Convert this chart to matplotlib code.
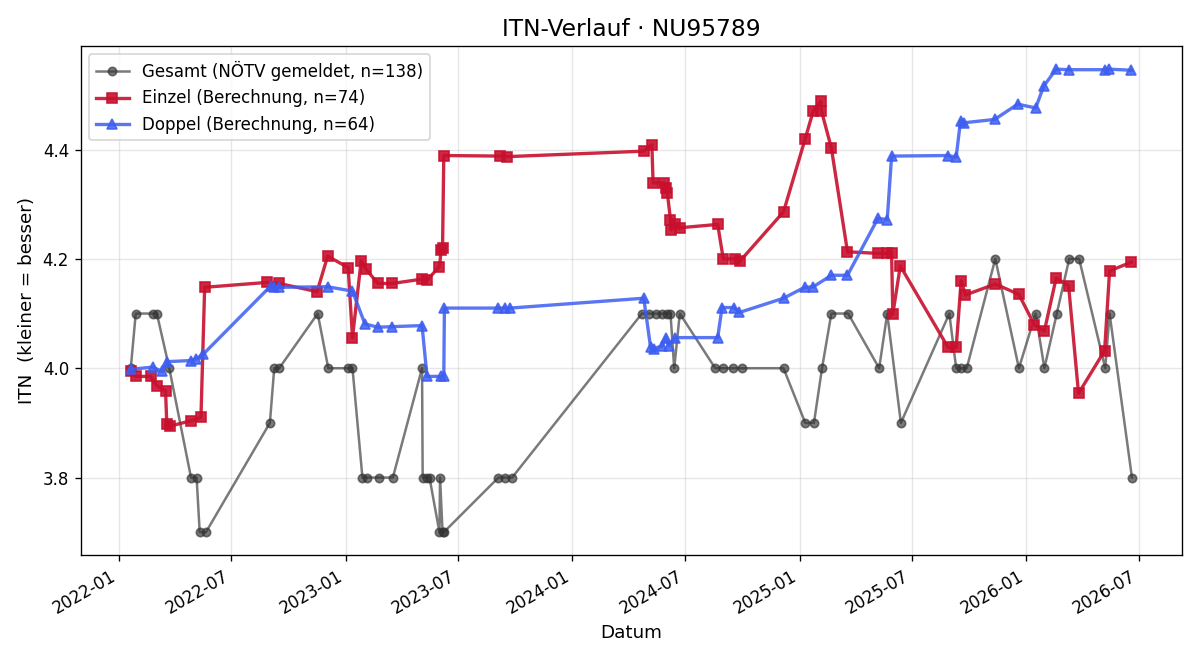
import pandas as pd
import matplotlib
matplotlib.use("Agg")
import matplotlib.pyplot as plt
import matplotlib.dates as mdates

# ITN history per date
gesamt_dates = [
    "2022-01-20", "2022-01-28", "2022-02-24", "2022-03-03", "2022-03-23",
    "2022-04-27", "2022-05-06", "2022-05-11", "2022-05-21", "2022-09-01",
    "2022-09-08", "2022-09-16", "2022-11-17", "2022-12-04", "2023-01-05",
    "2023-01-12", "2023-01-28", "2023-02-04", "2023-02-24", "2023-03-18",
    "2023-05-04", "2023-05-05", "2023-05-12", "2023-05-16", "2023-06-01",
    "2023-06-02", "2023-06-06", "2023-06-08", "2023-09-04", "2023-09-15",
    "2023-09-26", "2024-04-22", "2024-05-03", "2024-05-14", "2024-05-25",
    "2024-06-02", "2024-06-07", "2024-06-13", "2024-06-22", "2024-08-18",
    "2024-08-31", "2024-09-16", "2024-09-30", "2024-12-06", "2025-01-10",
    "2025-01-24", "2025-02-06", "2025-02-21", "2025-03-20", "2025-05-09",
    "2025-05-22", "2025-06-13", "2025-08-30", "2025-09-10", "2025-09-18",
    "2025-09-27", "2025-11-12", "2025-12-20", "2026-01-16", "2026-01-30",
    "2026-02-19", "2026-03-11", "2026-03-27", "2026-05-08", "2026-05-15",
    "2026-06-20",
]
gesamt_values = [
    4.0, 4.1, 4.1, 4.1, 4.0,
    3.8, 3.8, 3.7, 3.7, 3.9,
    4.0, 4.0, 4.1, 4.0, 4.0,
    4.0, 3.8, 3.8, 3.8, 3.8,
    4.0, 3.8, 3.8, 3.8, 3.7,
    3.8, 3.7, 3.7, 3.8, 3.8,
    3.8, 4.1, 4.1, 4.1, 4.1,
    4.1, 4.1, 4.0, 4.1, 4.0,
    4.0, 4.0, 4.0, 4.0, 3.9,
    3.9, 4.0, 4.1, 4.1, 4.0,
    4.1, 3.9, 4.1, 4.0, 4.0,
    4.0, 4.2, 4.0, 4.1, 4.0,
    4.1, 4.2, 4.2, 4.0, 4.1,
    3.8,
]

einzel_dates = [
    "2022-01-20", "2022-01-28", "2022-02-21", "2022-03-03", "2022-03-17",
    "2022-03-19", "2022-03-24", "2022-04-27", "2022-05-13", "2022-05-19",
    "2022-08-28", "2022-09-16", "2022-11-16", "2022-12-03", "2023-01-05",
    "2023-01-12", "2023-01-26", "2023-02-02", "2023-02-22", "2023-03-17",
    "2023-05-04", "2023-05-12", "2023-06-01", "2023-06-04", "2023-06-06",
    "2023-06-08", "2023-09-07", "2023-09-18", "2024-04-25", "2024-05-08",
    "2024-05-10", "2024-05-27", "2024-05-31", "2024-06-02", "2024-06-07",
    "2024-06-08", "2024-06-15", "2024-06-23", "2024-08-22", "2024-08-31",
    "2024-09-19", "2024-09-27", "2024-12-06", "2025-01-10", "2025-01-23",
    "2025-02-04", "2025-02-05", "2025-02-21", "2025-03-19", "2025-05-07",
    "2025-05-21", "2025-05-29", "2025-05-31", "2025-06-12", "2025-08-28",
    "2025-09-10", "2025-09-18", "2025-09-25", "2025-11-12", "2025-12-20",
    "2026-01-14", "2026-01-30", "2026-02-18", "2026-03-10", "2026-03-26",
    "2026-05-07", "2026-05-15", "2026-06-19",
]
einzel_values = [
    3.995, 3.985, 3.985, 3.968, 3.959,
    3.898, 3.894, 3.904, 3.910, 4.148,
    4.157, 4.155, 4.140, 4.205, 4.184,
    4.056, 4.197, 4.182, 4.155, 4.155,
    4.163, 4.161, 4.186, 4.217, 4.220,
    4.389, 4.388, 4.387, 4.397, 4.409,
    4.339, 4.339, 4.330, 4.320, 4.272,
    4.253, 4.263, 4.257, 4.263, 4.200,
    4.200, 4.196, 4.286, 4.420, 4.471,
    4.488, 4.471, 4.403, 4.213, 4.210,
    4.210, 4.210, 4.099, 4.187, 4.038,
    4.038, 4.160, 4.134, 4.154, 4.135,
    4.079, 4.068, 4.165, 4.151, 3.954,
    4.032, 4.178, 4.194,
]

doppel_dates = [
    "2022-01-20", "2022-02-24", "2022-03-12", "2022-03-19", "2022-04-27",
    "2022-05-05", "2022-05-17", "2022-09-02", "2022-09-08", "2022-09-16",
    "2022-12-03", "2023-01-12", "2023-02-01", "2023-02-22", "2023-03-17",
    "2023-05-04", "2023-05-12", "2023-06-03", "2023-06-08", "2023-06-09",
    "2023-09-04", "2023-09-15", "2023-09-23", "2024-04-25", "2024-05-06",
    "2024-05-11", "2024-05-25", "2024-05-30", "2024-06-04", "2024-06-15",
    "2024-08-22", "2024-08-29", "2024-09-17", "2024-09-26", "2024-12-06",
    "2025-01-09", "2025-01-23", "2025-02-21", "2025-03-19", "2025-05-07",
    "2025-05-22", "2025-05-29", "2025-08-28", "2025-09-10", "2025-09-17",
    "2025-09-23", "2025-11-11", "2025-12-18", "2026-01-16", "2026-01-29",
    "2026-02-18", "2026-03-10", "2026-05-07", "2026-05-14", "2026-06-19",
]
doppel_values = [
    3.998, 4.002, 3.994, 4.012, 4.014,
    4.017, 4.026, 4.150, 4.148, 4.148,
    4.149, 4.141, 4.081, 4.075, 4.076,
    4.078, 3.985, 3.985, 3.985, 4.110,
    4.110, 4.110, 4.110, 4.128, 4.038,
    4.036, 4.041, 4.056, 4.041, 4.056,
    4.056, 4.111, 4.111, 4.102, 4.128,
    4.148, 4.149, 4.170, 4.170, 4.274,
    4.272, 4.388, 4.389, 4.386, 4.453,
    4.449, 4.455, 4.483, 4.476, 4.516,
    4.547, 4.546, 4.546, 4.547, 4.545,
]


def main():
    fig, ax = plt.subplots(figsize=(10, 5.5), dpi=120)

    ax.plot(pd.to_datetime(gesamt_dates), gesamt_values, marker="o", markersize=5,
            linewidth=1.5, color="#333333", alpha=0.65,
            label="Gesamt (NÖTV gemeldet, n=138)")
    ax.plot(pd.to_datetime(einzel_dates), einzel_values, marker="s", markersize=6,
            linewidth=2, color="#c8102e", alpha=0.9,
            label="Einzel (Berechnung, n=74)")
    ax.plot(pd.to_datetime(doppel_dates), doppel_values, marker="^", markersize=6,
            linewidth=2, color="#3d5ef0", alpha=0.85,
            label="Doppel (Berechnung, n=64)")

    ax.set_title("ITN-Verlauf · NU95789", fontsize=14)
    ax.set_xlabel("Datum", fontsize=11)
    ax.set_ylabel("ITN  (kleiner = besser)", fontsize=11)
    ax.xaxis.set_major_locator(mdates.MonthLocator(bymonth=[1, 7]))
    ax.xaxis.set_major_formatter(mdates.DateFormatter("%Y-%m"))
    ax.grid(True, alpha=0.3)
    ax.legend(loc="upper left", fontsize=10)
    fig.autofmt_xdate()

    fig.tight_layout()
    fig.savefig("out.png")


if __name__ == '__main__':
    main()
